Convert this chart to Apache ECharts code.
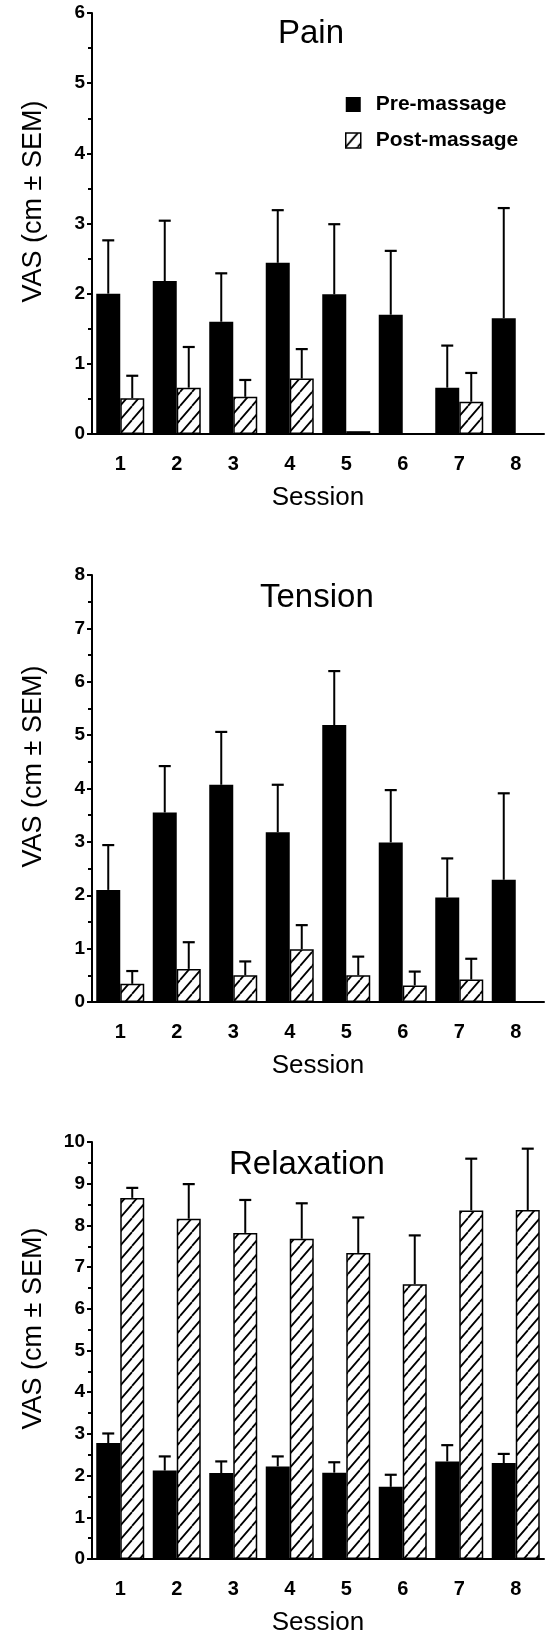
<!DOCTYPE html>
<html>
<head>
<meta charset="utf-8">
<script src="https://cdn.jsdelivr.net/npm/echarts@6/dist/echarts.min.js"></script>
<style>
html, body { margin: 0; padding: 0; background: #fff; }
#main { width: 546px; height: 1637px; }
</style>
</head>
<body>
<div id="main"></div>
<script>
// sessions on the x axis
const sessions = ['1', '2', '3', '4', '5', '6', '7', '8'];

// Pain
const painPre = [2.0, 2.18, 1.6, 2.44, 1.99, 1.7, 0.66, 1.65];
const painPreSem = [0.76, 0.86, 0.69, 0.75, 1.0, 0.91, 0.6, 1.57];
const painPost = [0.51, 0.66, 0.53, 0.79, 0.04, 0, 0.46, 0];
const painPostSem = [0.32, 0.58, 0.24, 0.42, 0, 0, 0.41, 0];

// Tension
const tensionPre = [2.1, 3.55, 4.07, 3.18, 5.19, 2.99, 1.96, 2.29];
const tensionPreSem = [0.84, 0.87, 0.99, 0.89, 1.01, 0.98, 0.73, 1.62];
const tensionPost = [0.34, 0.62, 0.5, 0.99, 0.5, 0.31, 0.42, 0];
const tensionPostSem = [0.24, 0.5, 0.26, 0.45, 0.35, 0.26, 0.39, 0];

// Relaxation
const relaxPre = [2.78, 2.12, 2.06, 2.22, 2.07, 1.73, 2.34, 2.3];
const relaxPreSem = [0.23, 0.34, 0.28, 0.24, 0.25, 0.29, 0.39, 0.22];
const relaxPost = [8.66, 8.16, 7.82, 7.68, 7.34, 6.59, 8.36, 8.37];
const relaxPostSem = [0.24, 0.83, 0.79, 0.85, 0.85, 1.17, 1.24, 1.47];

const panelTitles = ['Pain', 'Tension', 'Relaxation'];
const yMax = [6, 8, 10];

const FONT = '"Liberation Sans", Arial, Helvetica, sans-serif';
const BAR_W = 24;

// diagonal hatch for the post-massage bars
function hatch() {
    const c = document.createElement('canvas');
    c.width = 12;
    c.height = 14;
    const ctx = c.getContext('2d');
    ctx.fillStyle = '#fff';
    ctx.fillRect(0, 0, 12, 14);
    ctx.strokeStyle = '#000';
    ctx.lineWidth = 1.8;
    ctx.beginPath();
    ctx.moveTo(-12, 14); ctx.lineTo(0, 0);
    ctx.moveTo(0, 14); ctx.lineTo(12, 0);
    ctx.moveTo(12, 14); ctx.lineTo(24, 0);
    ctx.stroke();
    return c;
}
const hatchFill = { image: hatch(), repeat: 'repeat' };

const grids = [
    { left: 92, width: 452, top: 13, height: 421 },
    { left: 92, width: 452, top: 575, height: 427 },
    { left: 92, width: 452, top: 1142, height: 432 }
];

function errorBars(idx, vals, sems, offset) {
    return {
        type: 'custom',
        xAxisIndex: idx,
        yAxisIndex: idx,
        z: 4,
        silent: true,
        data: vals.map((v, i) => [i, v, v + sems[i]]),
        renderItem(params, api) {
            if (api.value(2) <= api.value(1)) return;
            const base = api.coord([api.value(0), api.value(1)]);
            const top = api.coord([api.value(0), api.value(2)]);
            const x = base[0] + offset;
            return {
                type: 'group',
                children: [
                    { type: 'line', shape: { x1: x, y1: base[1], x2: x, y2: top[1] }, style: { stroke: '#000', lineWidth: 2 } },
                    { type: 'line', shape: { x1: x - 6, y1: top[1], x2: x + 6, y2: top[1] }, style: { stroke: '#000', lineWidth: 2.2 } }
                ]
            };
        }
    };
}

const panels = [
    [painPre, painPreSem, painPost, painPostSem],
    [tensionPre, tensionPreSem, tensionPost, tensionPostSem],
    [relaxPre, relaxPreSem, relaxPost, relaxPostSem]
];

let xAxes = [], yAxes = [], series = [];
panels.forEach((p, i) => {
    xAxes.push({
        type: 'category',
        gridIndex: i,
        data: sessions,
        axisLine: { lineStyle: { color: '#000', width: 2 } },
        axisTick: { length: 4, lineStyle: { color: '#000', width: 2 } },
        axisLabel: { color: '#000', fontSize: 20, fontWeight: 'bold', fontFamily: FONT, margin: 20 },
        name: 'Session',
        nameLocation: 'middle',
        nameGap: 51,
        nameTextStyle: { color: '#000', fontSize: 26, fontFamily: FONT }
    });
    yAxes.push({
        type: 'value',
        gridIndex: i,
        min: 0,
        max: yMax[i],
        interval: 1,
        axisLine: { show: true, lineStyle: { color: '#000', width: 2 } },
        axisTick: { show: true, length: 5, lineStyle: { color: '#000', width: 2 } },
        minorTick: { show: true, splitNumber: 2, length: 4, lineStyle: { color: '#000', width: 2 } },
        splitLine: { show: false },
        axisLabel: { color: '#000', fontSize: 19, fontWeight: 'bold', fontFamily: FONT, margin: 7, padding: [12, 0, 0, 0] },
        name: 'VAS (cm ± SEM)',
        nameLocation: 'middle',
        nameGap: 45,
        nameRotate: 90,
        nameTextStyle: { color: '#000', fontSize: 27, fontFamily: FONT, padding: [0, 0, 0, 44] }
    });
    series.push({
        name: 'Pre-massage',
        type: 'bar',
        xAxisIndex: i,
        yAxisIndex: i,
        barWidth: BAR_W,
        barGap: '0%',
        itemStyle: { color: '#000' },
        data: p[0]
    });
    series.push({
        name: 'Post-massage',
        type: 'bar',
        xAxisIndex: i,
        yAxisIndex: i,
        barWidth: BAR_W,
        barGap: '0%',
        itemStyle: { color: hatchFill, borderColor: '#000', borderWidth: 1.5 },
        data: p[2]
    });
    series.push(errorBars(i, p[0], p[1], -BAR_W / 2));
    series.push(errorBars(i, p[2], p[3], BAR_W / 2));
});

const titleStyle = { fontSize: 33, fontWeight: 'normal', color: '#000', fontFamily: FONT };

const chart = echarts.init(document.getElementById('main'), null, { renderer: 'canvas' });
chart.setOption({
    animation: false,
    backgroundColor: '#fff',
    title: [
        { text: panelTitles[0], left: 273, top: 12, textStyle: titleStyle },
        { text: panelTitles[1], left: 255, top: 576, textStyle: titleStyle },
        { text: panelTitles[2], left: 224, top: 1143, textStyle: titleStyle }
    ],
    legend: {
        left: 340,
        top: 89,
        orient: 'vertical',
        icon: 'rect',
        itemWidth: 15,
        itemHeight: 15,
        itemGap: 15,
        textStyle: { color: '#000', fontSize: 21, fontWeight: 'bold', fontFamily: FONT, lineHeight: 21, padding: [0, 0, 0, 10] },
        data: [
            { name: 'Pre-massage', itemStyle: { color: '#000' } },
            { name: 'Post-massage', itemStyle: { color: hatchFill, borderColor: '#000', borderWidth: 1.5 } }
        ]
    },
    grid: grids,
    xAxis: xAxes,
    yAxis: yAxes,
    series: series
});
</script>
</body>
</html>
